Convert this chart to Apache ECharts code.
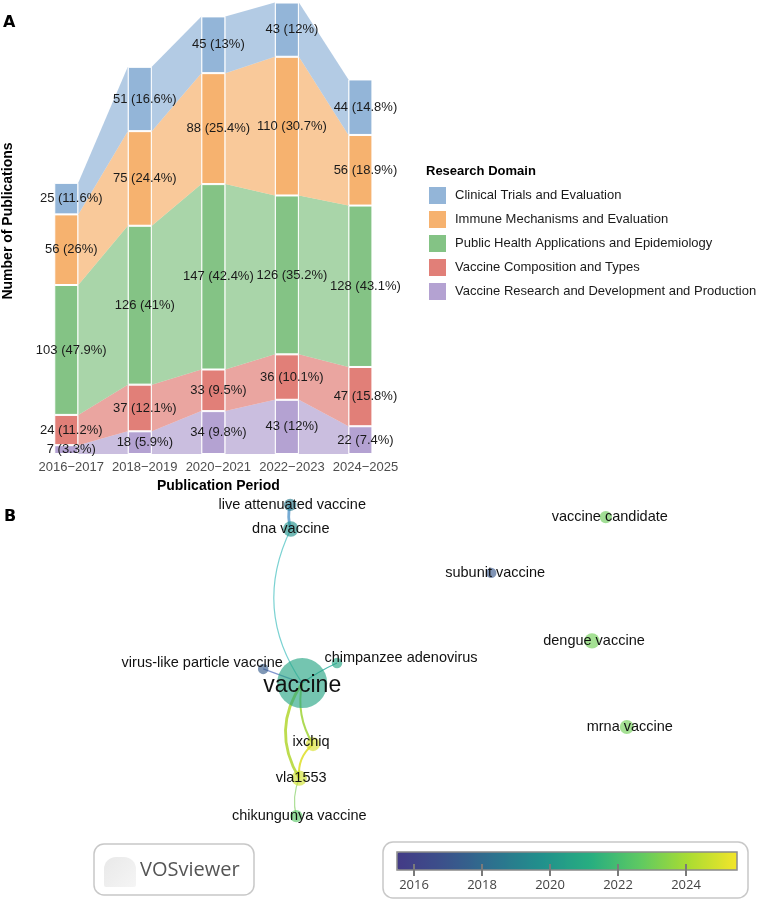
<!DOCTYPE html>
<html>
<head>
<meta charset="utf-8">
<script src="https://cdn.jsdelivr.net/npm/echarts@6.0.0/dist/echarts.min.js"></script>
<style>
  html, body { margin: 0; padding: 0; background: #fff; }
  #chart { width: 766px; height: 901px; }
</style>
</head>
<body>
<div id="chart"></div>
<script>
// ---- Panel A: publications per period and research domain ----
const periods = ['2016−2017', '2018−2019', '2020−2021', '2022−2023', '2024−2025'];
// stack order, bottom to top
const domains = [
  'Vaccine Research and Development and Production',
  'Vaccine Composition and Types',
  'Public Health Applications and Epidemiology',
  'Immune Mechanisms and Evaluation',
  'Clinical Trials and Evaluation'
];
const researchDevelopment = [7, 18, 34, 43, 22];
const compositionTypes = [24, 37, 33, 36, 47];
const publicHealth = [103, 126, 147, 126, 128];
const immuneMechanisms = [56, 75, 88, 110, 56];
const clinicalTrials = [25, 51, 45, 43, 44];
const legendOrder = domains.slice().reverse();

// ---- Panel B: keyword overlay map (VOSviewer) ----
const keywords = [
  'live attenuated vaccine', 'dna vaccine', 'vaccine', 'virus-like particle vaccine',
  'chimpanzee adenovirus', 'ixchiq', 'vla1553', 'chikungunya vaccine',
  'vaccine candidate', 'subunit vaccine', 'dengue vaccine', 'mrna vaccine'
];
const mapX = [31.7, 31.8, 33.7, 27.2, 39.5, 35.5, 33.2, 32.7, 84.3, 65.2, 82.0, 87.8];
const mapY = [97.0, 89.7, 43.0, 47.3, 49.1, 24.5, 14.2, 2.7, 93.3, 76.4, 55.8, 29.7];
const occurrences = [3, 5, 64, 2, 2, 4, 5, 3, 3, 2, 5, 4];
const avgYear = [2018.8, 2019.8, 2020.7, 2017.4, 2020.8, 2025.0, 2024.8, 2022.5, 2022.9, 2017.2, 2023.0, 2023.0];
const linkSource = ['dna vaccine', 'dna vaccine', 'vaccine', 'vaccine', 'vaccine', 'vaccine', 'ixchiq', 'vla1553'];
const linkTarget = ['live attenuated vaccine', 'vaccine', 'virus-like particle vaccine', 'chimpanzee adenovirus', 'ixchiq', 'vla1553', 'vla1553', 'chikungunya vaccine'];
const linkStrength = [3, 1, 1, 1, 2, 3, 2, 1];
const yearMin = 2015.5;
const yearMax = 2025.5;
const yearTicks = [2016, 2018, 2020, 2022, 2024];

// ---- styles ----
const domainColors = ['#B4A2D2', '#E17F78', '#84C385', '#F6B26F', '#93B5D8'];
const BAR_WIDTH = 24;
const LABEL_SHIFT = 5;
const viridis = ['#433a86', '#3b528b', '#2c728e', '#21918c', '#28ae80', '#5ec962', '#aadc32', '#f3e52a'];
const linkColors = ['#6fa6d2', '#74d0d0', '#7b90cc', '#44b5aa', '#a9d84c', '#b9da44', '#e2e23c', '#a7dc8e'];
const linkCurveness = [0.15, -0.29, 0, 0.05, -0.2, -0.32, -0.27, -0.16];
const labelOffsets = {
  'vaccine': [0, 3],
  'virus-like particle vaccine': [-61, -6],
  'chimpanzee adenovirus': [64, -5],
  'live attenuated vaccine': [2, 0],
  'vaccine candidate': [4, 0],
  'subunit vaccine': [4, 0],
  'dengue vaccine': [2, 0],
  'mrna vaccine': [3, 0],
  'chikungunya vaccine': [3, 0],
  'vla1553': [2, 0],
  'ixchiq': [-2, -2]
};
const SANS = '"Liberation Sans", Arial, sans-serif';

const domainValues = [researchDevelopment, compositionTypes, publicHealth, immuneMechanisms, clinicalTrials];
const totals = periods.map((_, i) => domainValues.reduce((s, arr) => s + arr[i], 0));
// cumulative base of each layer
const bases = domainValues.map((_, d) =>
  periods.map((__, i) => domainValues.slice(0, d).reduce((s, arr) => s + arr[i], 0)));

function pctLabel(v, i) {
  const p = Math.round(v / totals[i] * 1000) / 10;
  return v + ' (' + p + '%)';
}

function yearColor(y) {
  const c = echarts.color.lerp((y - yearMin) / (yearMax - yearMin), viridis);
  return echarts.color.modifyAlpha(c, 0.64);
}

const chart = echarts.init(document.getElementById('chart'), null, { renderer: 'canvas' });

const flowSeries = domains.map((name, d) => ({
  type: 'custom',
  name: name + ' flow',
  xAxisIndex: 0,
  yAxisIndex: 0,
  silent: true,
  z: 1,
  encode: { x: 0, y: [1, 2, 3, 4] },
  data: periods.slice(0, -1).map((_, i) => [
    i, bases[d][i], bases[d][i] + domainValues[d][i],
    bases[d][i + 1], bases[d][i + 1] + domainValues[d][i + 1]
  ]),
  renderItem: (params, api) => {
    const i = api.value(0);
    const half = BAR_WIDTH / 2;
    const a0 = api.coord([i, api.value(1)]);
    const a1 = api.coord([i, api.value(2)]);
    const b0 = api.coord([i + 1, api.value(3)]);
    const b1 = api.coord([i + 1, api.value(4)]);
    return {
      type: 'polygon',
      shape: { points: [[a0[0] + half, a0[1]], [a1[0] + half, a1[1]], [b1[0] - half, b1[1]], [b0[0] - half, b0[1]]] },
      style: { fill: domainColors[d], opacity: 0.7 }
    };
  }
}));

const barSeries = domains.map((name, d) => ({
  type: 'bar',
  name: name,
  stack: 'total',
  xAxisIndex: 0,
  yAxisIndex: 0,
  barWidth: BAR_WIDTH,
  z: 2,
  silent: true,
  itemStyle: { color: domainColors[d], borderColor: '#fff', borderWidth: 1 },
  label: {
    show: true,
    position: 'inside',
    offset: [LABEL_SHIFT, 0],
    color: '#1a1a1a',
    fontFamily: SANS,
    fontSize: 13,
    formatter: (p) => pctLabel(p.value, p.dataIndex)
  },
  data: domainValues[d]
}));

const nodes = keywords.map((k, i) => ({
  name: k,
  value: [mapX[i], mapY[i]],
  symbolSize: 2 + 6 * Math.sqrt(occurrences[i]),
  itemStyle: { color: yearColor(avgYear[i]) },
  label: {
    fontSize: k === 'vaccine' ? 23 : 14.5,
    offset: labelOffsets[k] || [0, 0]
  }
}));

const links = linkSource.map((s, i) => ({
  source: s,
  target: linkTarget[i],
  lineStyle: {
    color: linkColors[i],
    width: 0.4 + 0.8 * linkStrength[i],
    curveness: linkCurveness[i]
  }
}));

const graphSeries = {
  type: 'graph',
  layout: 'none',
  coordinateSystem: 'cartesian2d',
  xAxisIndex: 1,
  yAxisIndex: 1,
  silent: true,
  z: 3,
  symbol: 'circle',
  label: {
    show: true,
    position: 'inside',
    color: '#111',
    fontFamily: SANS
  },
  lineStyle: { opacity: 0.95 },
  emphasis: { disabled: true },
  data: nodes,
  links: links
};

const series = [...flowSeries, ...barSeries, graphSeries];

const hiddenAxis = {
  axisLine: { show: false }, axisTick: { show: false },
  axisLabel: { show: false }, splitLine: { show: false }
};

chart.setOption({
  backgroundColor: '#fff',
  animation: false,
  textStyle: { fontFamily: SANS },
  grid: [
    { left: 29.5, top: 0, width: 367.7, height: 454, outerBoundsMode: 'none', containLabel: false },
    { left: 100, top: 495, width: 600, height: 330, outerBoundsMode: 'none', containLabel: false },
    {
      left: 397, top: 852, width: 340, height: 18, outerBoundsMode: 'none', containLabel: false,
      show: true, backgroundColor: 'transparent', borderColor: '#8a8a8a', borderWidth: 1.5, z: 10
    }
  ],
  xAxis: [
    {
      gridIndex: 0,
      type: 'category',
      data: periods,
      axisLine: { show: false },
      axisTick: { show: false },
      axisLabel: { interval: 0, color: '#4d4d4d', fontSize: 13, margin: 7, padding: [0, 0, 0, 2 * LABEL_SHIFT] },
      name: 'Publication Period',
      nameLocation: 'middle',
      nameGap: 19,
      nameTextStyle: { color: '#000', fontWeight: 'bold', fontSize: 14, padding: [0, 0, 0, 2 * LABEL_SHIFT] }
    },
    { gridIndex: 1, type: 'value', min: 0, max: 100, ...hiddenAxis },
    {
      gridIndex: 2, type: 'value', min: yearMin, max: yearMax, z: 10,
      axisLine: { show: false },
      axisTick: { show: true, customValues: yearTicks, length: 6, lineStyle: { color: '#7a7a7a', width: 2 } },
      axisLabel: {
        show: true, customValues: yearTicks, color: '#444', fontSize: 13, margin: 9,
        fontFamily: '"Open Sans", sans-serif', formatter: (v) => String(v)
      },
      splitLine: { show: false }
    },
    {
      gridIndex: 2, type: 'value', min: yearMin, max: yearMax, position: 'bottom', z: 10,
      axisLine: { show: false },
      axisTick: { show: true, inside: true, customValues: yearTicks, length: 6, lineStyle: { color: '#7a7a7a', width: 2 } },
      axisLabel: { show: false },
      splitLine: { show: false }
    }
  ],
  yAxis: [
    { gridIndex: 0, type: 'value', min: 0, max: 360, ...hiddenAxis },
    { gridIndex: 1, type: 'value', min: 0, max: 100, ...hiddenAxis },
    { gridIndex: 2, type: 'value', min: 0, max: 1, ...hiddenAxis }
  ],
  legend: {
    data: legendOrder,
    orient: 'vertical',
    left: 427,
    top: 185,
    padding: 0,
    itemWidth: 19,
    itemHeight: 19,
    itemGap: 3,
    icon: 'rect',
    selectedMode: false,
    textStyle: { color: '#1a1a1a', fontSize: 13, fontFamily: SANS, padding: [0, 0, 0, 3] }
  },
  visualMap: {
    type: 'continuous',
    seriesIndex: [],
    min: yearMin,
    max: yearMax,
    orient: 'horizontal',
    left: 397,
    top: 852,
    padding: 0,
    itemWidth: 18,
    itemHeight: 340,
    calculable: false,
    hoverLink: false,
    inRange: { color: viridis }
  },
  graphic: [
    { type: 'text', left: 3, top: 15, style: { text: 'A', font: '900 16px "DejaVu Sans", Arial, sans-serif', fill: '#000' } },
    { type: 'text', left: 4, top: 509, style: { text: 'B', font: '900 16px "DejaVu Sans", Arial, sans-serif', fill: '#000' } },
    {
      type: 'text', x: 8, y: 221, rotation: Math.PI / 2,
      style: { text: 'Number of Publications', font: 'bold 14px ' + SANS, fill: '#000', align: 'center', verticalAlign: 'middle' }
    },
    { type: 'text', left: 426, top: 165, style: { text: 'Research Domain', font: 'bold 13px ' + SANS, fill: '#000' } },
    { type: 'rect', shape: { x: 383, y: 842, width: 365, height: 56, r: 10 }, style: { fill: 'none', stroke: '#c8c8c8', lineWidth: 1.5 } },
    { type: 'rect', shape: { x: 94, y: 844, width: 160, height: 51, r: 10 }, style: { fill: 'none', stroke: '#c8c8c8', lineWidth: 1.5 } },
    {
      type: 'rect', shape: { x: 104, y: 857, width: 32, height: 30, r: [12, 12, 2, 2] },
      style: { fill: new echarts.graphic.LinearGradient(0, 0, 1, 1, [{ offset: 0, color: '#e6e6e6' }, { offset: 1, color: '#f4f4f4' }]), opacity: 0.9 }
    },
    { type: 'text', left: 140, top: 860, style: { text: 'VOSviewer', font: '20px "Open Sans", sans-serif', fill: '#555' } }
  ],
  series: series
});
</script>
</body>
</html>
